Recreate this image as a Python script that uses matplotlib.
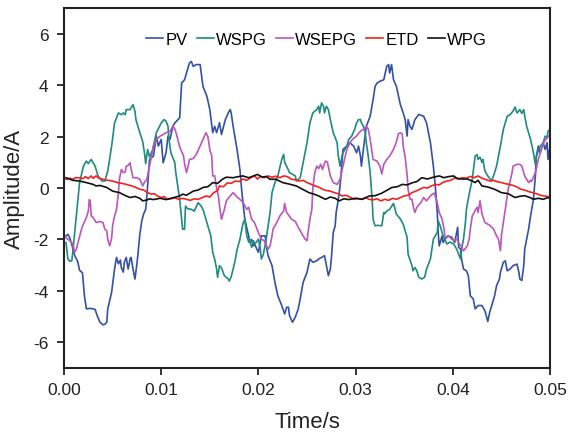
import numpy as np
import matplotlib
matplotlib.use("Agg")
import matplotlib.pyplot as plt

plt.rcParams["font.family"] = ["Liberation Sans", "DejaVu Sans"]

# Sampled currents: (time in ms, amplitude in A)
pv_points = [
    (0.2, -1.86), (0.4, -1.80), (0.6, -1.95), (0.8, -2.20), (1.1, -2.63), (1.4, -2.85),
    (1.6, -3.20), (1.9, -3.30), (2.1, -4.19), (2.3, -4.70), (2.7, -4.68), (3.2, -4.72),
    (3.4, -4.95), (3.7, -5.22), (4.0, -5.32), (4.2, -5.30), (4.4, -5.22), (4.5, -4.70),
    (4.9, -4.05), (5.2, -3.15), (5.4, -2.70), (5.6, -2.95), (5.8, -2.80), (5.9, -3.10),
    (6.1, -3.27), (6.2, -2.90), (6.4, -2.70), (6.6, -3.15), (6.8, -2.75), (6.9, -2.70),
    (7.1, -3.15), (7.3, -3.54), (7.5, -2.95), (7.6, -2.60), (7.8, -1.80), (8.0, -1.28),
    (8.2, -1.00), (8.4, -0.83), (8.5, -0.44), (8.8, 1.11), (9.2, 1.24), (9.5, 2.02),
    (9.7, 1.63), (10.0, 1.89), (10.2, 0.98), (10.5, 1.37), (10.7, 2.02), (10.9, 1.89),
    (11.2, 2.40), (11.4, 2.53), (11.9, 2.73), (12.1, 4.08), (12.4, 4.21), (12.6, 4.47),
    (12.9, 4.86), (13.1, 4.92), (13.3, 4.73), (13.6, 4.80), (14.0, 4.80), (14.3, 3.95),
    (14.7, 3.57), (15.0, 3.05), (15.3, 2.15), (15.5, 2.40), (15.7, 2.15), (16.0, 2.54),
    (16.2, 2.08), (16.6, 2.66), (16.9, 2.92), (17.1, 3.05), (17.2, 2.92), (17.4, 2.40),
    (17.8, 1.50), (18.1, 0.72), (18.3, -0.17), (18.6, -1.21), (18.8, -1.55), (19.0, -1.86),
    (19.1, -2.12), (19.3, -2.00), (19.5, -2.25), (19.6, -2.18), (20.0, -2.50), (20.3, -1.86),
    (20.7, -1.86), (20.8, -2.25), (21.0, -2.63), (21.4, -3.02), (21.7, -3.67), (22.0, -4.19),
    (22.4, -4.57), (22.7, -4.90), (22.9, -4.64), (23.1, -4.64), (23.2, -4.96), (23.5, -5.22),
    (23.8, -5.02), (24.1, -4.70), (24.3, -4.31), (24.6, -3.67), (25.0, -3.28), (25.3, -2.76),
    (25.6, -2.89), (26.0, -2.83), (26.2, -2.76), (26.5, -2.70), (26.8, -2.63), (27.0, -3.02),
    (27.2, -3.41), (27.4, -3.15), (27.5, -2.76), (27.7, -1.73), (27.9, -1.47), (28.0, -0.95),
    (28.2, -0.50), (28.4, 0.08), (28.6, 0.98), (28.7, 1.50), (29.1, 1.63), (29.4, 1.76),
    (29.8, 1.63), (30.1, 1.37), (30.3, 1.63), (30.5, 1.24), (30.6, 0.85), (30.8, 1.50),
    (31.1, 2.40), (31.5, 2.79), (31.8, 3.44), (32.0, 3.95), (32.2, 4.08), (32.5, 4.15),
    (32.9, 4.21), (33.2, 4.73), (33.4, 4.80), (33.5, 4.47), (33.7, 4.80), (33.9, 4.21),
    (34.2, 3.95), (34.6, 3.25), (34.9, 2.92), (35.1, 2.66), (35.3, 2.02), (35.4, 2.66),
    (35.6, 2.40), (35.8, 2.28), (36.1, 2.66), (36.5, 2.86), (37.0, 2.79), (37.3, 2.53),
    (37.7, 1.76), (38.0, 0.85), (38.2, 0.08), (38.4, -0.95), (38.5, -1.73), (38.6, -2.25),
    (38.9, -1.86), (39.0, -2.12), (39.2, -1.99), (39.5, -1.86), (39.9, -1.92), (40.2, -2.12),
    (40.5, -1.53), (40.6, -2.31), (40.8, -2.38), (40.9, -2.76), (41.1, -3.15), (41.4, -3.22),
    (41.6, -3.41), (41.8, -4.19), (42.1, -4.31), (42.3, -4.70), (42.6, -4.57), (43.0, -4.57),
    (43.3, -4.77), (43.6, -5.19), (43.8, -4.83), (44.0, -4.57), (44.3, -4.19), (44.5, -3.80),
    (44.8, -3.54), (44.9, -3.27), (45.2, -2.89), (45.4, -2.83), (45.6, -3.22), (45.9, -3.15),
    (46.2, -3.02), (46.6, -2.96), (46.8, -3.28), (46.9, -3.54), (47.1, -3.60), (47.3, -3.02),
    (47.4, -2.38), (47.6, -1.99), (47.8, -1.60), (48.0, -1.09), (48.3, -0.44), (48.5, 0.50),
    (48.6, 1.24), (48.8, 1.63), (49.0, 1.37), (49.3, 1.76), (49.5, 1.50), (49.7, 1.76),
    (49.8, 1.11), (50.0, 1.63),
]

wspg_points = [
    (0.2, -2.12), (0.4, -2.76), (0.6, -2.85), (0.8, -2.83), (0.9, -2.50), (1.1, -1.73),
    (1.3, -1.00), (1.6, 0.21), (2.0, 0.85), (2.3, 1.05), (2.5, 0.95), (2.8, 1.11),
    (3.2, 0.85), (3.5, 0.47), (3.9, 0.27), (4.2, 0.27), (4.5, 0.66), (4.9, 1.63),
    (5.2, 2.53), (5.6, 2.92), (5.9, 2.85), (6.1, 2.92), (6.3, 2.85), (6.4, 3.05),
    (6.8, 3.05), (6.9, 3.12), (7.1, 3.24), (7.3, 2.98), (7.4, 2.66), (7.8, 2.15),
    (8.1, 1.80), (8.3, 1.30), (8.4, 0.95), (8.6, 1.50), (8.8, 1.20), (9.0, 1.40),
    (9.1, 1.45), (9.5, 2.15), (9.7, 2.30), (10.0, 2.53), (10.3, 2.66), (10.5, 2.60),
    (10.7, 2.40), (10.8, 1.89), (11.0, 1.37), (11.4, 0.98), (11.5, 0.60), (11.7, 0.08),
    (11.9, -0.44), (12.0, -0.83), (12.2, -1.60), (12.4, -1.60), (12.5, -0.70), (12.7, -0.80),
    (13.1, -0.83), (13.4, -0.90), (13.8, -0.57), (14.1, -0.70), (14.3, -0.83), (14.5, -1.09),
    (14.8, -1.47), (15.1, -1.86), (15.3, -2.50), (15.5, -2.76), (15.7, -3.15), (15.8, -3.47),
    (16.0, -3.02), (16.2, -3.10), (16.5, -3.41), (16.9, -3.54), (17.0, -3.62), (17.2, -3.45),
    (17.4, -3.15), (17.6, -2.83), (17.8, -2.40), (18.1, -1.99), (18.3, -1.60), (18.4, -1.40),
    (18.6, -1.21), (18.8, -1.86), (19.0, -2.10), (19.1, -1.99), (19.3, -2.31), (19.5, -2.05),
    (19.6, -2.20), (20.0, -1.99), (20.2, -2.38), (20.3, -2.76), (20.5, -2.60), (20.8, -1.99),
    (21.0, -1.47), (21.2, -0.95), (21.4, -0.18), (21.7, 0.21), (22.0, 0.47), (22.4, 1.11),
    (22.6, 1.31), (22.7, 1.00), (22.9, 0.85), (23.2, 0.60), (23.8, 0.47), (23.9, 0.27),
    (24.3, 0.40), (24.6, 0.98), (25.0, 1.76), (25.3, 2.53), (25.6, 2.92), (26.0, 3.05),
    (26.2, 3.18), (26.3, 2.92), (26.5, 3.31), (26.7, 3.18), (26.8, 2.92), (27.0, 3.18),
    (27.2, 3.05), (27.4, 2.66), (27.7, 2.15), (28.1, 1.76), (28.2, 1.30), (28.4, 0.85),
    (28.6, 1.24), (28.7, 1.37), (29.1, 1.63), (29.3, 1.89), (29.6, 2.02), (29.9, 2.28),
    (30.1, 2.53), (30.3, 2.66), (30.5, 2.66), (30.6, 2.53), (30.8, 2.40), (31.0, 2.15),
    (31.1, 1.76), (31.3, 1.24), (31.5, 0.60), (31.7, -0.44), (31.8, -1.21), (32.0, -1.47),
    (32.3, -1.45), (32.7, -1.47), (32.9, -0.95), (33.0, -1.00), (33.2, -0.90), (33.5, -0.83),
    (33.9, -0.60), (34.2, -1.02), (34.6, -1.20), (34.9, -1.41), (35.3, -1.92), (35.4, -2.57),
    (35.8, -3.02), (35.9, -3.22), (36.1, -3.09), (36.3, -3.22), (36.5, -3.47), (36.8, -3.54),
    (37.1, -3.47), (37.3, -3.15), (37.7, -2.76), (37.8, -2.50), (38.0, -1.99), (38.2, -1.86),
    (38.4, -1.73), (38.5, -1.28), (38.7, -1.47), (38.9, -1.73), (39.0, -1.86), (39.4, -2.18),
    (39.7, -2.10), (40.1, -2.18), (40.4, -2.38), (40.8, -2.76), (40.9, -2.38), (41.1, -1.99),
    (41.3, -1.34), (41.4, -0.83), (41.6, -0.40), (42.0, 0.34), (42.3, 1.24), (42.5, 1.30),
    (42.6, 1.11), (42.8, 1.20), (43.0, 1.00), (43.1, 1.11), (43.3, 0.66), (43.6, 0.47),
    (44.0, 0.27), (44.3, 0.60), (44.5, 0.85), (44.9, 1.63), (45.2, 2.28), (45.6, 2.79),
    (45.9, 2.85), (46.2, 2.99), (46.4, 3.15), (46.6, 2.92), (46.8, 3.00), (46.9, 3.05),
    (47.1, 2.90), (47.3, 3.05), (47.4, 2.80), (47.6, 2.40), (48.0, 1.89), (48.3, 1.37),
    (48.5, 0.90), (48.6, 1.24), (49.0, 1.63), (49.3, 1.76), (49.5, 2.02), (49.7, 1.95),
    (49.8, 2.21), (50.0, 2.28),
]

wsepg_points = [
    (0.2, -1.92), (0.4, -2.00), (0.6, -2.05), (0.9, -2.18), (1.1, -2.50), (1.3, -2.35),
    (1.4, -2.18), (1.8, -1.60), (2.0, -1.40), (2.3, -1.15), (2.5, -0.90), (2.6, -0.45),
    (2.7, -0.50), (2.8, -1.09), (3.0, -1.15), (3.3, -1.34), (3.7, -1.30), (4.0, -1.34),
    (4.2, -1.60), (4.4, -1.67), (4.5, -2.00), (4.7, -2.25), (4.9, -1.95), (5.0, -1.47),
    (5.2, -1.09), (5.4, -0.83), (5.6, -0.18), (5.7, 0.34), (5.9, 0.72), (6.1, 0.60),
    (6.3, 0.62), (6.4, 0.85), (6.6, 0.88), (6.8, 0.98), (6.9, 0.75), (7.1, 0.40),
    (7.5, 0.40), (7.8, 0.34), (8.1, 0.08), (8.3, 0.25), (8.5, 0.30), (8.8, 0.85),
    (9.2, 1.63), (9.5, 1.89), (9.9, 2.02), (10.2, 2.08), (10.5, 2.15), (10.9, 2.20),
    (11.2, 2.40), (11.4, 2.30), (11.6, 2.05), (11.9, 1.60), (12.3, 1.24), (12.4, 0.95),
    (12.6, 0.60), (12.8, 0.90), (12.9, 1.11), (13.3, 1.15), (13.6, 1.30), (14.0, 1.63),
    (14.3, 1.89), (14.6, 2.15), (14.8, 2.00), (15.0, 1.50), (15.2, 1.24), (15.3, 0.47),
    (15.5, 0.47), (15.7, 0.00), (15.9, -0.35), (16.0, -0.70), (16.2, -1.21), (16.3, -1.09),
    (16.5, -0.83), (16.7, -0.50), (17.1, -0.31), (17.4, -0.18), (17.8, -0.35), (18.1, -0.44),
    (18.4, -0.55), (18.8, -0.83), (19.0, -0.75), (19.3, -1.21), (19.6, -1.35), (20.0, -1.73),
    (20.3, -1.99), (20.6, -2.05), (21.0, -2.38), (21.2, -2.25), (21.4, -1.86), (21.5, -1.60),
    (21.9, -1.34), (22.2, -1.09), (22.6, -0.89), (22.7, -0.60), (22.9, -0.95), (23.1, -1.05),
    (23.4, -1.21), (23.8, -1.30), (24.1, -1.53), (24.4, -1.73), (24.8, -1.99), (25.0, -2.05),
    (25.1, -1.75), (25.3, -1.21), (25.5, -0.83), (25.6, 0.00), (25.8, 0.60), (26.0, 0.85),
    (26.2, 0.75), (26.4, 0.92), (26.6, 0.72), (26.7, 0.85), (26.9, 1.05), (27.1, 1.00),
    (27.4, 0.47), (27.7, 0.21), (28.1, 0.14), (28.4, 0.34), (28.7, 0.85), (29.1, 1.50),
    (29.4, 1.76), (29.7, 1.90), (30.1, 2.02), (30.5, 2.21), (30.8, 2.28), (31.1, 2.40),
    (31.3, 2.30), (31.5, 1.89), (31.7, 1.37), (31.8, 1.11), (32.2, 1.05), (32.5, 0.85),
    (32.7, 0.55), (32.9, 0.92), (33.2, 1.11), (33.5, 1.24), (33.9, 1.50), (34.2, 1.80),
    (34.4, 2.10), (34.6, 2.15), (34.8, 2.10), (34.9, 1.63), (35.1, 1.20), (35.3, 0.50),
    (35.4, -0.05), (35.6, -0.44), (35.8, -0.44), (36.0, -0.83), (36.1, -0.95), (36.3, -0.75),
    (36.7, -0.57), (37.0, -0.37), (37.3, -0.50), (37.7, -0.31), (37.9, -0.24), (38.1, -0.20),
    (38.4, -0.57), (38.6, -0.95), (38.9, -1.21), (39.1, -1.60), (39.2, -1.92), (39.6, -1.88),
    (39.9, -1.99), (40.1, -2.05), (40.4, -1.99), (40.8, -2.25), (41.1, -2.44), (41.3, -2.35),
    (41.5, -2.25), (41.7, -1.95), (41.8, -1.60), (42.0, -1.09), (42.2, -0.95), (42.5, -0.75),
    (42.6, -0.95), (42.8, -0.50), (43.0, -1.00), (43.3, -1.34), (43.8, -1.45), (44.2, -1.60),
    (44.5, -1.86), (44.7, -1.99), (44.9, -2.44), (45.0, -1.86), (45.2, -1.34), (45.4, -0.83),
    (45.7, -0.05), (46.1, 0.60), (46.2, 0.85), (46.6, 0.92), (46.9, 0.92), (47.1, 0.85),
    (47.4, 0.47), (47.8, 0.21), (48.0, 0.30), (48.1, 0.25), (48.5, 0.60), (48.8, 1.11),
    (49.2, 1.63), (49.4, 1.80), (49.7, 1.95), (50.0, 2.08),
]

etd_points = [
    (0.2, 0.34), (0.6, 0.38), (0.9, 0.34), (1.2, 0.40), (1.6, 0.40), (1.9, 0.36),
    (2.2, 0.44), (2.5, 0.37), (2.8, 0.47), (3.0, 0.38), (3.3, 0.47), (3.5, 0.40),
    (3.8, 0.36), (4.2, 0.32), (4.5, 0.30), (5.0, 0.27), (5.5, 0.21), (6.0, 0.18),
    (6.4, 0.14), (7.0, 0.08), (7.4, 0.02), (7.8, -0.05), (8.2, -0.08), (8.6, -0.18),
    (9.0, -0.24), (9.3, -0.22), (9.6, -0.31), (10.0, -0.37), (10.3, -0.33), (10.6, -0.44),
    (11.0, -0.42), (11.4, -0.38), (11.8, -0.44), (12.2, -0.40), (12.6, -0.44), (13.0, -0.48),
    (13.4, -0.42), (13.8, -0.44), (14.2, -0.38), (14.6, -0.31), (15.0, -0.35), (15.4, -0.18),
    (15.8, -0.10), (16.0, 0.08), (16.4, 0.05), (16.8, 0.20), (17.2, 0.18), (17.6, 0.27),
    (18.0, 0.25), (18.4, 0.35), (18.8, 0.30), (19.2, 0.40), (19.6, 0.47), (19.9, 0.35),
    (20.2, 0.45), (20.6, 0.40), (21.0, 0.47), (21.4, 0.42), (21.8, 0.46), (22.2, 0.40),
    (22.6, 0.47), (23.0, 0.44), (23.4, 0.34), (23.8, 0.32), (24.2, 0.27), (24.6, 0.30),
    (25.0, 0.21), (25.4, 0.15), (25.8, 0.08), (26.2, 0.04), (26.6, -0.05), (27.0, -0.10),
    (27.4, -0.12), (27.8, -0.18), (28.2, -0.22), (28.6, -0.31), (29.0, -0.28), (29.4, -0.35),
    (29.8, -0.44), (30.2, -0.40), (30.6, -0.44), (31.0, -0.37), (31.4, -0.44), (31.8, -0.46),
    (32.2, -0.42), (32.6, -0.50), (33.0, -0.44), (33.4, -0.48), (33.8, -0.40), (34.2, -0.44),
    (34.6, -0.37), (35.0, -0.31), (35.4, -0.28), (35.8, -0.18), (36.2, -0.12), (36.6, -0.05),
    (37.0, 0.02), (37.4, 0.00), (37.8, 0.08), (38.2, 0.14), (38.6, 0.12), (39.0, 0.22),
    (39.4, 0.27), (39.8, 0.30), (40.2, 0.40), (40.6, 0.34), (41.0, 0.40), (41.4, 0.38),
    (41.8, 0.45), (42.2, 0.40), (42.6, 0.47), (43.0, 0.38), (43.4, 0.33), (43.8, 0.27),
    (44.2, 0.30), (44.6, 0.24), (45.0, 0.21), (45.4, 0.17), (45.8, 0.14), (46.2, 0.10),
    (46.6, 0.04), (47.0, -0.05), (47.4, -0.08), (47.8, -0.14), (48.2, -0.18), (48.6, -0.22),
    (49.0, -0.28), (49.4, -0.31), (49.8, -0.33), (50.0, -0.40),
]

wpg_points = [
    (0.2, 0.40), (0.9, 0.30), (1.6, 0.27), (2.3, 0.21), (3.0, 0.14), (3.3, 0.08),
    (3.7, 0.10), (4.4, 0.02), (5.0, -0.12), (5.7, -0.18), (6.4, -0.31), (6.8, -0.37),
    (7.3, -0.33), (7.8, -0.40), (8.1, -0.50), (8.5, -0.47), (8.8, -0.42), (9.2, -0.45),
    (9.9, -0.40), (10.5, -0.45), (11.2, -0.38), (11.9, -0.31), (12.2, -0.24), (12.6, -0.28),
    (13.3, -0.12), (13.8, -0.08), (14.3, 0.02), (14.8, 0.05), (15.3, 0.21), (15.8, 0.18),
    (16.3, 0.34), (16.7, 0.42), (17.4, 0.40), (17.9, 0.44), (18.4, 0.47), (19.0, 0.40),
    (19.3, 0.44), (19.9, 0.53), (20.4, 0.42), (20.8, 0.45), (21.2, 0.34), (21.8, 0.34),
    (22.5, 0.21), (23.2, 0.15), (23.9, 0.08), (24.4, -0.02), (24.9, -0.12), (25.2, -0.18),
    (25.8, -0.25), (26.2, -0.31), (26.9, -0.44), (27.4, -0.35), (27.9, -0.40), (28.3, -0.50),
    (28.8, -0.42), (29.3, -0.45), (29.9, -0.40), (30.7, -0.44), (31.4, -0.31), (32.0, -0.30),
    (32.7, -0.20), (33.4, -0.05), (33.7, 0.02), (34.3, 0.05), (34.8, 0.14), (35.3, 0.12),
    (35.8, 0.20), (36.3, 0.25), (36.8, 0.40), (37.4, 0.35), (38.0, 0.42), (38.6, 0.47),
    (39.1, 0.40), (39.5, 0.44), (40.1, 0.47), (40.4, 0.38), (41.0, 0.35), (41.5, 0.35),
    (42.0, 0.27), (42.3, 0.21), (42.6, 0.30), (43.0, 0.08), (43.6, 0.04), (44.3, -0.05),
    (45.0, -0.18), (45.7, -0.22), (46.4, -0.37), (46.9, -0.32), (47.4, -0.30), (48.0, -0.38),
    (48.3, -0.44), (48.8, -0.40), (49.3, -0.44), (49.8, -0.37), (50.0, -0.40),
]

series = [
    ("PV", pv_points, "#3350A8"),
    ("WSPG", wspg_points, "#1E8A80"),
    ("WSEPG", wsepg_points, "#BC55BC"),
    ("ETD", etd_points, "#F52020"),
    ("WPG", wpg_points, "#111111"),
]

x_ticks = [0.00, 0.01, 0.02, 0.03, 0.04, 0.05]
y_ticks = [-6, -4, -2, 0, 2, 4, 6]

fig = plt.figure(figsize=(5.70, 4.35), dpi=100)
ax = fig.add_axes([0.1123, 0.1517, 0.8526, 0.8276])

for name, pts, color in series:
    arr = np.array(pts, dtype=float)
    ax.plot(arr[:, 0] / 1000.0, arr[:, 1], color=color, lw=1.2, label=name)

ax.set_xlim(0, 0.05)
ax.set_ylim(-7, 7)
ax.set_xticks(x_ticks)
ax.set_xticklabels([f"{v:.2f}" for v in x_ticks])
ax.set_yticks(y_ticks)
ax.set_yticklabels([str(v) for v in y_ticks])
ax.tick_params(direction="out", length=5, width=1.3, labelsize=12.5, colors="#222222")
ax.tick_params(axis="y", pad=6)
ax.tick_params(axis="x", pad=5)
for s in ax.spines.values():
    s.set_linewidth(1.5)
    s.set_color("#222222")

ax.set_xlabel("Time/s", fontsize=16, color="#222222", labelpad=10)
ax.set_ylabel("Amplitude/A", fontsize=16, color="#222222", labelpad=6)

leg = ax.legend(loc="center", bbox_to_anchor=(0.52, 0.912), ncol=5, frameon=False,
                fontsize=12, handlelength=1.0, handletextpad=0.15,
                columnspacing=0.55, borderaxespad=0)

fig.savefig("out.png", dpi=100)
